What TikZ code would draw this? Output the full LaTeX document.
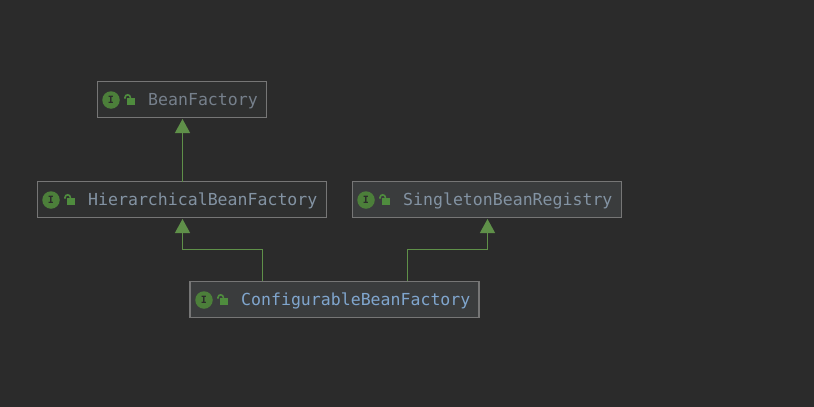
\documentclass[tikz,border=0pt]{standalone}
\usepackage{fontspec}
\setmonofont{DejaVu Sans Mono}
\usetikzlibrary{arrows.meta,calc}
\definecolor{bgc}{HTML}{2B2B2B}
\definecolor{edgec}{HTML}{5F9049}
\definecolor{circc}{HTML}{4C7F3A}
\definecolor{lockc}{HTML}{4F8C3E}
\definecolor{boxline}{HTML}{767676}
\definecolor{fillA}{HTML}{2F3030}
\definecolor{fillB}{HTML}{3A3C3D}
\definecolor{txtA}{HTML}{76808C}
\definecolor{txtB}{HTML}{8393A3}
\definecolor{txtC}{HTML}{80A6CE}
\tikzset{
  classbox/.style={draw=boxline,line width=1.5pt,minimum height=36pt,inner sep=0pt,outer sep=0pt},
  label/.style={font=\ttfamily\fontsize{16.55}{18}\selectfont,anchor=base west,inner sep=0pt},
  ibadge/.style={circle,fill=circc,minimum size=17.5pt,inner sep=0pt,text=bgc,font=\ttfamily\bfseries\fontsize{10}{10}\selectfont},
  inherit/.style={draw=edgec,line width=1.2pt,-{Triangle[length=14pt,width=15pt,fill=edgec]},shorten >=1.5pt},
}
\newcommand{\lockicon}[2]{%
  \fill[lockc] (#1-3.2,#2-2) rectangle (#1+5,#2+5.2);
  \draw[lockc,line width=1.6pt] (#1-5,#2-1.5) -- (#1-5,#2-2.5) arc[start angle=180,end angle=0,x radius=2.7,y radius=-2.7] -- (#1+.4,#2-2);
}
\begin{document}
\begin{tikzpicture}[x=1pt,y=-1pt]
\useasboundingbox (0,0) rectangle (814,407);
\fill[bgc] (0,0) rectangle (814,407);
\node[classbox,fill=fillA,minimum width=169pt] (bf) at (182,99.5) {};
\node[classbox,fill=fillA,minimum width=289pt] (hb) at (182,199.5) {};
\node[classbox,fill=fillB,minimum width=269pt] (sr) at (487,199.5) {};
\node[classbox,fill=fillB,minimum width=289pt] (cb) at (334.5,299.5) {};
\node[ibadge] (bfi) at (111,100) {I};
\node[ibadge] (hbi) at (51,200) {I};
\node[ibadge] (sri) at (366,200) {I};
\node[ibadge] (cbi) at (204,300) {I};
\lockicon{130}{100}
\lockicon{70}{200}
\lockicon{385}{200}
\lockicon{223}{300}
\node[label,text=txtA] (bft) at (148,105) {BeanFactory};
\node[label,text=txtB] (hbt) at (88,205) {HierarchicalBeanFactory};
\node[label,text=txtB] (srt) at (403,205) {SingletonBeanRegistry};
\node[label,text=txtC] (cbt) at (241,305) {ConfigurableBeanFactory};
\coordinate (cl) at (262.5,281);
\coordinate (cr) at (407.5,281);
\draw[inherit] ([xshift=.5pt]hb.north) -- ([xshift=.5pt]bf.south);
\draw[inherit] (cl) -- (262.5,249.5) -| ([xshift=.5pt]hb.south);
\draw[inherit] (cr) -- (407.5,249.5) -| ([xshift=.5pt]sr.south);
\end{tikzpicture}
\end{document}
